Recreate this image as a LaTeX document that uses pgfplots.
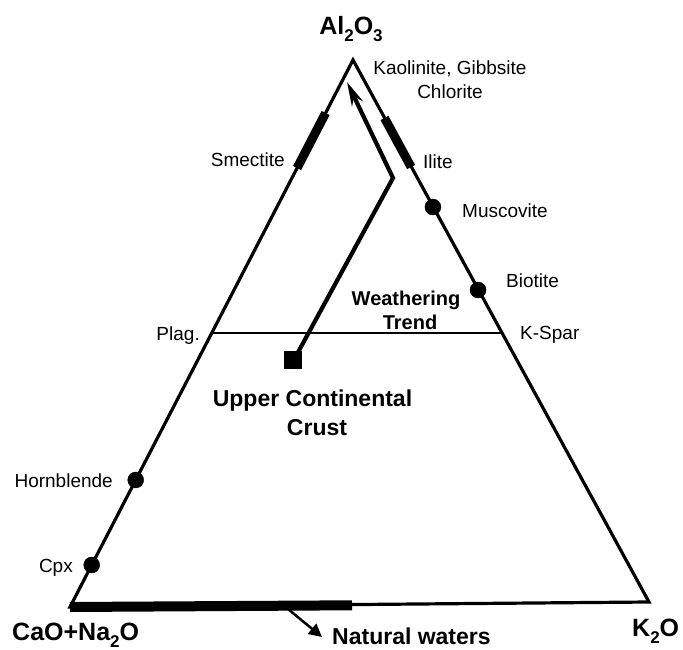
\documentclass[border=0pt]{standalone}
\usepackage{fontspec}
\setmainfont{Liberation Sans}
\usepackage{pgfplots}
\pgfplotsset{compat=1.18}
\usetikzlibrary{arrows.meta}
\newcommand\reg{\fontsize{19}{23}\selectfont}
\newcommand\bigb{\fontsize{25}{30}\selectfont\bfseries}
\newcommand\midb{\fontsize{23}{28}\selectfont\bfseries}
\newcommand\smb{\fontsize{20}{24}\selectfont\bfseries}
\newcommand\sub[1]{\raisebox{-0.28em}{\fontsize{17}{20}\selectfont #1}}
\begin{document}
\begin{tikzpicture}
\begin{axis}[name=ax, scale only axis, width=683pt, height=650pt,
  xmin=0, xmax=683, ymin=0, ymax=650, y dir=reverse, hide axis, clip=false]
% triangle
\addplot[black, line width=3.2pt, line join=miter] coordinates {(353,60) (70,607) (649,602)} -- cycle;
% Plag -- K-Spar tie line
\addplot[black, line width=2pt] coordinates {(211.8,333) (501.3,333)};
% thick bars
\addplot[black, line width=9pt] coordinates {(325.6,113) (297.1,168)};
\addplot[black, line width=9pt] coordinates {(384.5,118) (411.1,167)};
\addplot[black, line width=10pt] coordinates {(70,607) (352,605.3)};
% weathering trend
\addplot[black, line width=4.2pt, line join=miter, -{Stealth[length=24pt, width=12pt]}] coordinates {(296,356) (393,178) (347,82)};
% natural waters arrow
\addplot[black, line width=2.5pt, -{Triangle[length=13pt, width=13pt]}] coordinates {(288,609) (322,637)};
% minerals
\addplot[black, only marks, mark=*, mark size=8pt] coordinates {(135.7,480) (91.7,565) (432.9,207) (478,290)};
% upper continental crust
\addplot[black, only marks, mark=square*, mark size=8.5pt] coordinates {(293,360)};
% labels
\node[anchor=base] at (axis cs:351,35) {\bigb Al\sub{2}O\sub{3}};
\node[anchor=base] at (axis cs:450,75) {\reg Kaolinite, Gibbsite};
\node[anchor=base] at (axis cs:450,99) {\reg Chlorite};
\node[anchor=base east, inner sep=0pt] at (axis cs:285,167) {\reg Smectite};
\node[anchor=base west, inner sep=0pt] at (axis cs:423,169) {\reg Ilite};
\node[anchor=base west, inner sep=0pt] at (axis cs:462,218) {\reg Muscovite};
\node[anchor=base west, inner sep=0pt] at (axis cs:506,287) {\reg Biotite};
\node[anchor=base west, inner sep=0pt] at (axis cs:520,339) {\reg K-Spar};
\node[anchor=base east, inner sep=0pt] at (axis cs:200,340) {\reg Plag.};
\node[anchor=base] at (axis cs:406,305) {\smb Weathering};
\node[anchor=base] at (axis cs:410,329) {\smb Trend};
\node[anchor=base] at (axis cs:312.5,406) {\midb Upper Continental};
\node[anchor=base] at (axis cs:317,435) {\midb Crust};
\node[anchor=base east, inner sep=0pt] at (axis cs:113,487) {\reg Hornblende};
\node[anchor=base east, inner sep=0pt] at (axis cs:73,572) {\reg Cpx};
\node[anchor=base west, inner sep=0pt] at (axis cs:12,640) {\bigb CaO+Na\sub{2}O};
\node[anchor=base west, inner sep=0pt] at (axis cs:632,636) {\bigb K\sub{2}O};
\node[anchor=base west, inner sep=0pt] at (axis cs:332,644) {\midb Natural waters};
\end{axis}
\pgfresetboundingbox
\path[use as bounding box] (ax.south west) rectangle (ax.north east);
\end{tikzpicture}
\end{document}
